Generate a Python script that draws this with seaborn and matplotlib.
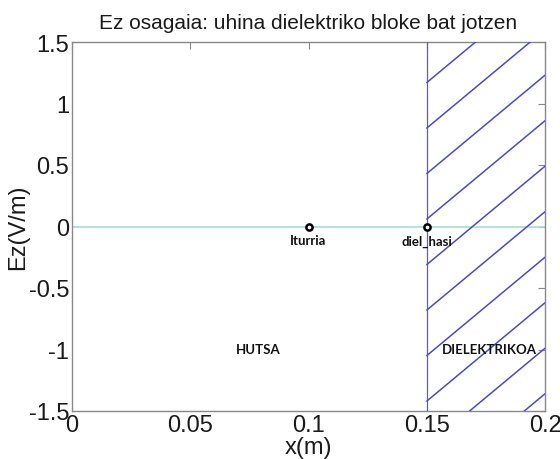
import numpy as np
import pandas as pd
import matplotlib
matplotlib.use("Agg")
import matplotlib.pyplot as plt
import seaborn as sns

# ---- data ----
x_line = [0.0, 0.2]
ez_line = [0.0, 0.0]
point_x = [0.1, 0.15]
point_y = [0.0, 0.0]
point_labels = ["Iturria", "diel_hasi"]
region_labels = ["HUTSA", "DIELEKTRIKOA"]
region_x = [0.0695, 0.1565]
region_y = [-1.0, -1.0]
diel_start = 0.15
x_ticks = [0, 0.05, 0.1, 0.15, 0.2]
x_tick_labels = ["0", "0.05", "0.1", "0.15", "0.2"]
y_ticks = [-1.5, -1, -0.5, 0, 0.5, 1, 1.5]
y_tick_labels = ["-1.5", "-1", "-0.5", "0", "0.5", "1", "1.5"]

sns.set_style("white")
plt.rcParams["font.family"] = ["Liberation Sans", "DejaVu Sans"]

fig = plt.figure(figsize=(5.6, 4.6), dpi=100)
ax = fig.add_axes([72 / 560, 48 / 460, 473 / 560, 369 / 460])

# zero field line
line_df = pd.DataFrame({"x": x_line, "Ez": ez_line})
sns.lineplot(data=line_df, x="x", y="Ez", ax=ax, color="#a6dcdc", linewidth=1.2, zorder=2)

# dielectric boundary and hatching
ax.axvline(diel_start, color="#5a5ad2", linewidth=0.9, zorder=3)
hatch_slope = 16.0          # data units (Ez per m)
hatch_step = 0.37
offsets = np.arange(1.17, -3.2, -hatch_step)
hx = np.array([diel_start, 0.2])
for c in offsets:
    ax.plot(hx, c + hatch_slope * (hx - diel_start), color="#4a4acb", linewidth=1.1, zorder=3)

# points
pts_df = pd.DataFrame({"x": point_x, "y": point_y})
sns.scatterplot(data=pts_df, x="x", y="y", ax=ax, marker="o", s=20,
                facecolor="white", edgecolor="black", linewidth=1.8, zorder=5)

lab_font = dict(family=["Lato", "DejaVu Sans"], fontweight="bold", fontsize=9.5, color="#111111")
for px, lab in zip(point_x, point_labels):
    ax.text(px, -0.065, lab, ha="center", va="top", **lab_font)
for rx, ry, lab in zip(region_x, region_y, region_labels):
    ax.text(rx, ry, lab, ha="left", va="center", **lab_font)

ax.set_xlim(0, 0.2)
ax.set_ylim(-1.5, 1.5)
ax.set_xticks(x_ticks)
ax.set_xticklabels(x_tick_labels)
ax.set_yticks(y_ticks)
ax.set_yticklabels(y_tick_labels)
ax.tick_params(direction="in", length=5, width=0.8, color="#888888",
               labelsize=17, labelcolor="#1a1a1a", top=True, right=True, pad=2)
for s in ax.spines.values():
    s.set_color("#888888")
    s.set_linewidth(1.0)

ax.set_xlabel("x(m)", fontsize=17, color="#1a1a1a", labelpad=0)
ax.set_ylabel("Ez(V/m)", fontsize=17, color="#1a1a1a", labelpad=0)
ax.set_title("Ez osagaia: uhina dielektriko bloke bat jotzen", fontsize=15, color="#1a1a1a", pad=10)

fig.savefig("out.png", dpi=100)
